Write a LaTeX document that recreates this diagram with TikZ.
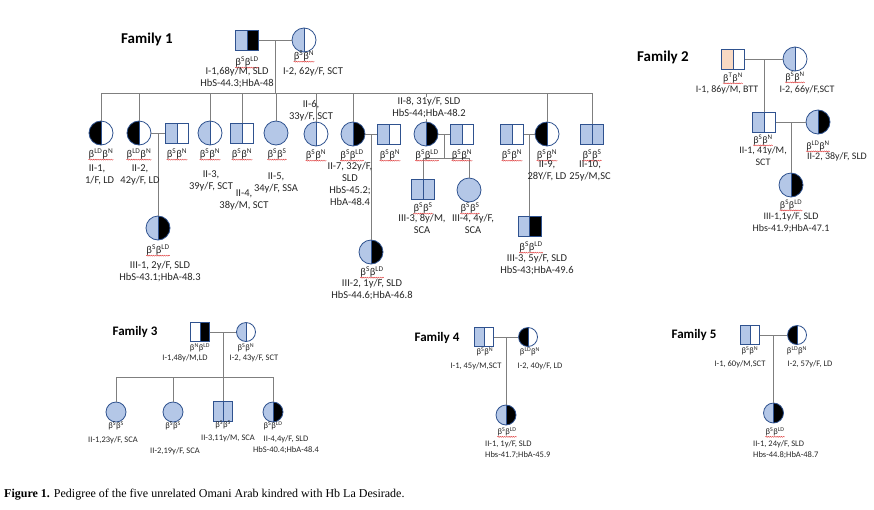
\documentclass[tikz,border=0pt]{standalone}
\usepackage{fontspec}
\setmainfont{Carlito}
\newfontfamily\capfont{Liberation Serif}
\usepackage{tikz}
\usetikzlibrary{calc,decorations.pathmorphing}

\definecolor{sblue}{HTML}{B4C7E7}
\definecolor{symb}{HTML}{2F528F}
\definecolor{peach}{HTML}{F8D9C3}
\definecolor{linegray}{HTML}{7F7F7F}
\definecolor{txt}{HTML}{262626}
\definecolor{squig}{HTML}{E04040}

\newcommand{\geno}[2]{β\textsuperscript{#1}β\textsuperscript{#2}}

\tikzset{
	fem/.style={circle, draw=symb, line width=0.8pt, minimum size=#1, inner sep=0pt},
	fem/.default=24pt,
	mal/.style={rectangle, draw=symb, line width=0.8pt, minimum width=#1, minimum height=20pt, inner sep=0pt},
	mal/.default=23pt,
	smal/.style={rectangle, draw=symb, line width=0.8pt, minimum size=19pt, inner sep=0pt},
	halves/.style 2 args={path picture={
		\fill[#1] (path picture bounding box.south west) rectangle (path picture bounding box.north);
		\fill[#2] (path picture bounding box.south) rectangle (path picture bounding box.north east);
		\draw[symb, line width=0.8pt] (path picture bounding box.south) -- (path picture bounding box.north);}},
	conn/.style={draw=linegray, line width=1pt},
	lab/.style={text=txt, font=\fontsize{10.5}{12}\selectfont, align=center, inner sep=0pt},
	flab/.style={text=txt, font=\fontsize{10}{11.7}\selectfont, align=center, inner sep=0pt},
	slab/.style={text=txt, font=\fontsize{8.5}{11}\selectfont, align=center, inner sep=0pt},
	wavy/.style={append after command={
		($(\tikzlastnode.base west)+(0,2.2)$) edge[draw=squig, line width=0.45pt, decorate,
		decoration={snake, amplitude=0.5pt, segment length=2.2pt}] ($(\tikzlastnode.base east)+(0,2.2)$)}},
	fam/.style={font=\fontsize{#1}{18}\selectfont\bfseries, inner sep=0pt},
	fam/.default=15
}

\begin{document}
\begin{tikzpicture}[x=1pt, y=-1pt]
	\fill[white] (0,0) rectangle (874,509);
	\useasboundingbox (0,0) rectangle (874,509);

	% Family 1
	\node[fam] (fam1) at (147,39) {Family 1};
	\node[mal, halves={sblue}{black}] (f1i1) at (247,40) {};
	\node[fem, halves={sblue}{white}] (f1i2) at (304,40) {};
	\node[fem, halves={black}{white}] (f1ii1) at (101,133) {};
	\node[fem, halves={black}{white}] (f1ii2) at (139,133) {};
	\node[mal, halves={sblue}{white}] (f1ii2h) at (177,133) {};
	\node[fem, halves={sblue}{white}] (f1ii3) at (210,133) {};
	\node[mal, halves={sblue}{white}] (f1ii4) at (242,133) {};
	\node[fem, fill=sblue] (f1ii5) at (276,133) {};
	\node[fem, halves={sblue}{white}] (f1ii6) at (316,134) {};
	\node[fem, halves={sblue}{black}] (f1ii7) at (353,134) {};
	\node[mal, halves={sblue}{white}] (f1ii7h) at (389,134) {};
	\node[fem, halves={sblue}{black}] (f1ii8) at (426,134) {};
	\node[mal, halves={sblue}{white}] (f1ii8h) at (462,134) {};
	\node[mal, halves={sblue}{white}] (f1ii9h) at (512,134) {};
	\node[fem, halves={black}{white}] (f1ii9) at (547,134) {};
	\node[mal, halves={sblue}{sblue}] (f1ii10) at (592,134) {};
	\node[fem, halves={sblue}{black}] (f1iii1) at (158,228) {};
	\node[fem, halves={sblue}{black}] (f1iii2) at (371,252) {};
	\node[mal, halves={sblue}{sblue}] (f1iii3) at (423,189) {};
	\node[fem, fill=sblue] (f1iii4) at (469,190) {};
	\node[mal, halves={sblue}{black}] (f1iii5) at (529.5,226) {};

	\coordinate (f1m) at ($(f1i1)!.5!(f1i2)$);
	\coordinate (f1s) at (275.5,93);
	\coordinate (f1m2) at ($(f1ii2)!.5!(f1ii2h)$);
	\coordinate (f1m7) at ($(f1ii7)!.5!(f1ii7h)$);
	\coordinate (f1m8) at ($(f1ii8)!.5!(f1ii8h)$);
	\coordinate (f1s8) at (444,158);
	\coordinate (f1m9) at ($(f1ii9h)!.5!(f1ii9)$);

	\draw[conn] (f1i1) -- (f1i2);
	\draw[conn] (f1m) -- (f1s);
	\draw[conn] (f1ii1 |- f1s) -- (f1ii10 |- f1s);
	\foreach \c in {f1ii1,f1ii2,f1ii3,f1ii4,f1ii5,f1ii6,f1ii7,f1ii8,f1ii9,f1ii10}
		\draw[conn] (\c |- f1s) -- (\c);
	\draw[conn] (f1ii2) -- (f1ii2h);
	\draw[conn] (f1m2) -- (f1iii1);
	\draw[conn] (f1ii7) -- (f1ii7h);
	\draw[conn] (f1m7) -- (f1iii2);
	\draw[conn] (f1ii8) -- (f1ii8h);
	\draw[conn] (f1m8) -- (f1s8);
	\draw[conn] (f1iii3 |- f1s8) -- (f1iii4 |- f1s8);
	\draw[conn] (f1iii3 |- f1s8) -- (f1iii3);
	\draw[conn] (f1iii4 |- f1s8) -- (f1iii4);
	\draw[conn] (f1ii9h) -- (f1ii9);
	\draw[conn] (f1m9) -- (f1iii5);

	\node[lab, wavy] (g1i1) at (247,62) {\geno{S}{LD}};
	\node[lab, wavy] (g1i2) at (304,56) {\geno{S}{N}};
	\node[lab] (t1i1) at (237,78) {I-1,68y/M, SLD\\HbS-44.3;HbA-48};
	\node[lab] (t1i2) at (313,72) {I-2, 62y/F, SCT};
	\node[lab, wavy] (g1ii1) at (101,154) {\geno{LD}{N}};
	\node[lab, wavy] (g1ii2) at (139,154) {\geno{LD}{N}};
	\node[lab, wavy] (g1ii2h) at (177,154) {\geno{S}{N}};
	\node[lab, wavy] (g1ii3) at (210,154) {\geno{S}{N}};
	\node[lab, wavy] (g1ii4) at (242,154) {\geno{S}{N}};
	\node[lab, wavy] (g1ii5) at (277,154) {\geno{S}{S}};
	\node[lab, wavy] (g1ii6) at (316,155) {\geno{S}{N}};
	\node[lab, wavy] (g1ii7) at (352,155) {\geno{S}{LD}};
	\node[lab, wavy] (g1ii7h) at (390,155) {\geno{S}{N}};
	\node[lab, wavy] (g1ii8) at (427,155) {\geno{S}{LD}};
	\node[lab, wavy] (g1ii8h) at (462,155) {\geno{S}{N}};
	\node[lab, wavy] (g1ii9h) at (512,155) {\geno{S}{N}};
	\node[lab, wavy] (g1ii9) at (547,155) {\geno{S}{N}};
	\node[lab, wavy] (g1ii10) at (592,155) {\geno{S}{S}};
	\begin{scope}
		\clip (85,160) rectangle (125,192);
		\node[lab] (t1ii1) at (97,175) {II-1,\\51/F, LD};
	\end{scope}
	\node[lab] (t1ii2) at (140,175) {II-2,\\42y/F, LD};
	\node[lab] (t1ii3) at (211,181) {II-3,\\39y/F, SCT};
	\node[lab] (t1ii4) at (244,200) {II-4,\\38y/M, SCT};
	\node[lab] (t1ii5) at (276,183) {II-5,\\34y/F, SSA};
	\node[lab] (t1ii6) at (311,111) {II-6,\\33y/F, SCT};
	\node[lab] (t1ii7) at (350,184) {II-7, 32y/F,\\SLD\\HbS-45.2;\\HbA-48.4};
	\node[lab, fill=white, inner sep=1pt] (t1ii8) at (429,108) {II-8, 31y/F, SLD\\HbS-44;HbA-48.2};
	\node[lab] (t1ii9) at (547,171) {II-9,\\28Y/F, LD};
	\node[lab] (t1ii10) at (590,171) {II-10,\\25y/M,SC};
	\node[lab, wavy] (g1iii1) at (158,250) {\geno{S}{LD}};
	\node[lab] (t1iii1) at (160,272) {III-1, 2y/F, SLD\\HbS-43.1;HbA-48.3};
	\node[lab, wavy] (g1iii2) at (372,272) {\geno{S}{LD}};
	\node[lab] (t1iii2) at (372,290) {III-2, 1y/F, SLD\\HbS-44.6;HbA-46.8};
	\node[lab, wavy] (g1iii3) at (423,208) {\geno{S}{S}};
	\node[lab] (t1iii3) at (422,224) {III-3, 8y/M,\\SCA};
	\node[lab, wavy] (g1iii4) at (470,208) {\geno{S}{S}};
	\node[lab] (t1iii4) at (473,224) {III-4, 4y/F,\\SCA};
	\node[lab, wavy] (g1iii5) at (531,247) {\geno{S}{LD}};
	\node[lab] (t1iii5) at (537,265) {III-3, 5y/F, SLD\\HbS-43;HbA-49.6};

	% Family 2
	\node[fam] (fam2) at (663,57) {Family 2};
	\node[mal, halves={peach}{white}] (f2i1) at (733,59) {};
	\node[fem, halves={sblue}{white}] (f2i2) at (795,59) {};
	\node[mal, halves={sblue}{white}] (f2ii1) at (764,122) {};
	\node[fem, halves={sblue}{black}] (f2ii2) at (818,122) {};
	\node[fem, halves={sblue}{black}] (f2iii1) at (791,185) {};
	\coordinate (f2m) at ($(f2i1)!.5!(f2i2)$);
	\coordinate (f2m2) at ($(f2ii1)!.5!(f2ii2)$);
	\draw[conn] (f2i1) -- (f2i2);
	\draw[conn] (f2m) -- (f2ii1);
	\draw[conn] (f2ii1) -- (f2ii2);
	\draw[conn] (f2m2) -- (f2iii1);
	\node[flab, wavy] (g2i1) at (733,78) {\geno{T}{N}};
	\node[flab, wavy] (g2i2) at (795,77) {\geno{S}{N}};
	\node[flab] (t2i1) at (727,90) {I-1, 86y/M, BTT};
	\node[flab] (t2i2) at (807,90) {I-2, 66y/F,SCT};
	\node[flab, wavy] (g2ii1) at (763,140) {\geno{S}{N}};
	\node[flab] (t2ii1) at (763,156) {II-1, 41y/M,\\SCT};
	\node[flab, wavy] (g2ii2) at (818,146) {\geno{LD}{N}};
	\node[flab] (t2ii2) at (837,157) {II-2, 38y/F, SLD};
	\node[flab, wavy] (g2iii1) at (791,205) {\geno{S}{LD}};
	\node[flab] (t2iii1) at (791,223) {III-1,1y/F, SLD\\Hbs-41.9;HbA-47.1};

	% Family 3
	\node[fam=13] (fam3) at (135,332) {Family 3};
	\node[smal, halves={white}{black}] (f3i1) at (200,332) {};
	\node[fem=19pt, halves={sblue}{white}] (f3i2) at (246,332) {};
	\node[fem=20pt, fill=sblue] (f3ii1) at (116,412) {};
	\node[fem=20pt, fill=sblue] (f3ii2) at (173,412) {};
	\node[smal, minimum height=20pt, halves={sblue}{sblue}] (f3ii3) at (223,411) {};
	\node[fem=20pt, halves={sblue}{black}] (f3ii4) at (273,412) {};
	\coordinate (f3m) at ($(f3i1)!.5!(f3i2)$);
	\coordinate (f3s) at (223,377);
	\draw[conn] (f3i1) -- (f3i2);
	\draw[conn] (f3m) -- (f3s);
	\draw[conn] (f3ii1 |- f3s) -- (f3ii4 |- f3s);
	\foreach \c in {f3ii1,f3ii2,f3ii3,f3ii4}
		\draw[conn] (\c |- f3s) -- (\c);
	\node[slab] (g3i1) at (200,348) {\geno{N}{LD}};
	\node[slab] (g3i2) at (246,348) {\geno{S}{N}};
	\node[slab] (t3i1) at (185,358) {I-1,48y/M,LD};
	\node[slab] (t3i2) at (254,358) {I-2, 43y/F, SCT};
	\node[slab] (g3ii1) at (116,426) {\geno{S}{S}};
	\node[slab] (g3ii2) at (173,426) {\geno{S}{S}};
	\node[slab] (g3ii3) at (223,425) {\geno{S}{S}};
	\node[slab] (g3ii4) at (273,426) {\geno{S}{LD}};
	\node[slab] (t3ii1) at (113,440) {II-1,23y/F, SCA};
	\node[slab] (t3ii2) at (175,451) {II-2,19y/F, SCA};
	\node[slab] (t3ii3) at (228,438) {II-3,11y/M, SCA};
	\node[slab] (t3ii4) at (286,445) {II-4,4y/F, SLD\\HbS-40.4;HbA-48.4};

	% Family 4
	\node[fam=13] (fam4) at (437,338) {Family 4};
	\node[smal, halves={sblue}{white}] (f4i1) at (484,337) {};
	\node[fem=19pt, halves={black}{white}] (f4i2) at (528,337) {};
	\node[fem=20pt, halves={sblue}{black}] (f4ii1) at (506,415) {};
	\coordinate (f4m) at ($(f4i1)!.5!(f4i2)$);
	\draw[conn] (f4i1) -- (f4i2);
	\draw[conn] (f4m) -- (f4ii1);
	\node[slab] (g4i1) at (485,352) {\geno{S}{N}};
	\node[slab] (g4i2) at (530,352) {\geno{LD}{N}};
	\node[slab] (t4i1) at (476,366) {I-1, 45y/M,SCT};
	\node[slab] (t4i2) at (540,366) {I-2, 40y/F, LD};
	\node[slab, wavy] (g4ii1) at (507,432) {\geno{S}{LD}};
	\node[slab, anchor=north west, align=left] (t4ii1) at (485,440) {II-1, 1y/F, SLD\\Hbs-41.7;HbA-45.9};

	% Family 5
	\node[fam=13] (fam5) at (694,335) {Family 5};
	\node[smal, halves={sblue}{white}] (f5i1) at (750,335) {};
	\node[fem=19pt, halves={black}{white}] (f5i2) at (797,335) {};
	\node[fem=20pt, halves={sblue}{black}] (f5ii1) at (773.5,413) {};
	\coordinate (f5m) at ($(f5i1)!.5!(f5i2)$);
	\draw[conn] (f5i1) -- (f5i2);
	\draw[conn] (f5m) -- (f5ii1);
	\node[slab] (g5i1) at (750,351) {\geno{S}{N}};
	\node[slab] (g5i2) at (797,351) {\geno{LD}{N}};
	\node[slab] (t5i1) at (740,364) {I-1, 60y/M,SCT};
	\node[slab] (t5i2) at (810,364) {I-2, 57y/F, LD};
	\node[slab, wavy] (g5ii1) at (775,432) {\geno{S}{LD}};
	\node[slab, anchor=north west, align=left] (t5ii1) at (753,440) {II-1, 24y/F, SLD\\Hbs-44.8;HbA-48.7};

	\node[anchor=west, inner sep=0pt, font=\capfont\fontsize{12}{14}\selectfont] (cap) at (4,495)
		{\textbf{Figure 1.} Pedigree of the five unrelated Omani Arab kindred with Hb La Desirade.};
\end{tikzpicture}
\end{document}
